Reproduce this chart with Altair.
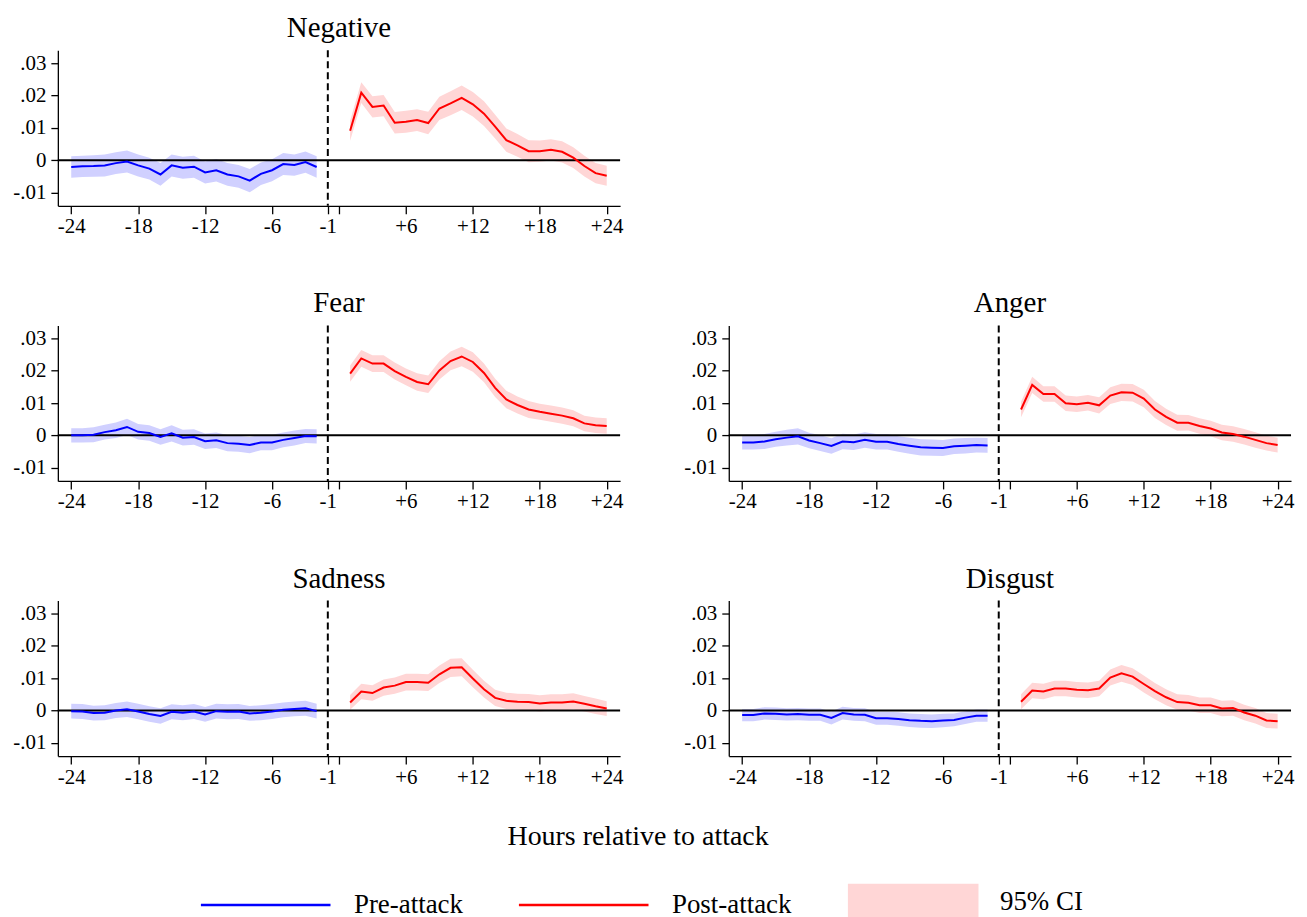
import altair as alt
import pandas as pd

# ---------------- data ----------------
HOURS_PRE = list(range(-24, -1))   # -24 ... -2
HOURS_POST = list(range(1, 25))    # +1 ... +24

neg_pre = [-0.0021, -0.0019, -0.0018, -0.0016, -0.0009, -0.0004, -0.0016, -0.0026, -0.0044, -0.0016,
           -0.0023, -0.0020, -0.0038, -0.0031, -0.0044, -0.0050, -0.0063, -0.0042, -0.0031, -0.0012,
           -0.0015, -0.0006, -0.0021]
neg_pre_ci = [0.0033, 0.0033, 0.0033, 0.0034, 0.0034, 0.0034, 0.0034, 0.0034, 0.0035, 0.0034,
              0.0034, 0.0034, 0.0034, 0.0035, 0.0035, 0.0035, 0.0036, 0.0035, 0.0034, 0.0034,
              0.0033, 0.0033, 0.0033]
neg_post = [0.0091, 0.0209, 0.0165, 0.0169, 0.0116, 0.0119, 0.0124, 0.0115, 0.0160, 0.0176,
            0.0193, 0.0173, 0.0144, 0.0104, 0.0062, 0.0046, 0.0028, 0.0028, 0.0032, 0.0026,
            0.0008, -0.0018, -0.0040, -0.0048]
neg_post_ci = [0.0031, 0.0032, 0.0033, 0.0033, 0.0033, 0.0034, 0.0034, 0.0035, 0.0036, 0.0037,
               0.0038, 0.0038, 0.0038, 0.0037, 0.0036, 0.0035, 0.0034, 0.0033, 0.0033, 0.0033,
               0.0032, 0.0032, 0.0031, 0.0031]

fear_pre = [0.0000, 0.0000, 0.0002, 0.0010, 0.0016, 0.0026, 0.0011, 0.0007, -0.0005, 0.0006,
            -0.0007, -0.0005, -0.0018, -0.0015, -0.0024, -0.0026, -0.0030, -0.0022, -0.0022, -0.0014,
            -0.0008, -0.0002, -0.0003]
fear_pre_ci = [0.0022, 0.0022, 0.0023, 0.0023, 0.0024, 0.0025, 0.0024, 0.0024, 0.0024, 0.0025,
               0.0024, 0.0024, 0.0024, 0.0024, 0.0025, 0.0025, 0.0025, 0.0024, 0.0024, 0.0023,
               0.0023, 0.0022, 0.0022]
fear_post = [0.0191, 0.0238, 0.0222, 0.0222, 0.0199, 0.0181, 0.0165, 0.0158, 0.0201, 0.0230,
             0.0244, 0.0227, 0.0193, 0.0147, 0.0111, 0.0094, 0.0080, 0.0073, 0.0067, 0.0061,
             0.0053, 0.0037, 0.0031, 0.0029]
fear_post_ci = [0.0025, 0.0026, 0.0026, 0.0026, 0.0026, 0.0026, 0.0027, 0.0027, 0.0028, 0.0029,
                0.0030, 0.0030, 0.0029, 0.0028, 0.0027, 0.0026, 0.0026, 0.0025, 0.0025, 0.0025,
                0.0025, 0.0024, 0.0024, 0.0024]

anger_pre = [-0.0022, -0.0022, -0.0019, -0.0012, -0.0007, -0.0003, -0.0016, -0.0024, -0.0033, -0.0019,
             -0.0021, -0.0014, -0.0020, -0.0020, -0.0027, -0.0032, -0.0037, -0.0038, -0.0039, -0.0034,
             -0.0032, -0.0030, -0.0031]
anger_pre_ci = [0.0022, 0.0022, 0.0023, 0.0023, 0.0024, 0.0025, 0.0024, 0.0024, 0.0024, 0.0024,
                0.0024, 0.0024, 0.0024, 0.0024, 0.0024, 0.0025, 0.0025, 0.0025, 0.0025, 0.0024,
                0.0024, 0.0023, 0.0023]
anger_post = [0.0080, 0.0156, 0.0128, 0.0128, 0.0099, 0.0096, 0.0101, 0.0093, 0.0123, 0.0133,
              0.0132, 0.0114, 0.0080, 0.0057, 0.0039, 0.0039, 0.0029, 0.0021, 0.0009, 0.0004,
              -0.0004, -0.0014, -0.0024, -0.0030]
anger_post_ci = [0.0024, 0.0025, 0.0024, 0.0024, 0.0024, 0.0024, 0.0024, 0.0025, 0.0026, 0.0027,
                 0.0027, 0.0027, 0.0026, 0.0025, 0.0025, 0.0024, 0.0024, 0.0024, 0.0024, 0.0024,
                 0.0024, 0.0024, 0.0023, 0.0023]

sad_pre = [-0.0002, -0.0003, -0.0008, -0.0007, 0.0000, 0.0004, -0.0003, -0.0011, -0.0017, -0.0004,
           -0.0007, -0.0003, -0.0012, -0.0002, -0.0004, -0.0003, -0.0009, -0.0007, -0.0003, 0.0002,
           0.0005, 0.0007, -0.0002]
sad_pre_ci = [0.0023, 0.0023, 0.0023, 0.0023, 0.0023, 0.0024, 0.0024, 0.0024, 0.0024, 0.0023,
              0.0023, 0.0023, 0.0023, 0.0023, 0.0023, 0.0023, 0.0023, 0.0023, 0.0023, 0.0023,
              0.0023, 0.0023, 0.0023]
sad_post = [0.0025, 0.0059, 0.0054, 0.0071, 0.0077, 0.0088, 0.0088, 0.0086, 0.0112, 0.0132,
            0.0134, 0.0099, 0.0066, 0.0039, 0.0030, 0.0027, 0.0026, 0.0022, 0.0025, 0.0025,
            0.0028, 0.0021, 0.0013, 0.0006]
sad_post_ci = [0.0023, 0.0024, 0.0024, 0.0025, 0.0025, 0.0026, 0.0026, 0.0026, 0.0027, 0.0028,
               0.0028, 0.0027, 0.0026, 0.0025, 0.0025, 0.0025, 0.0025, 0.0025, 0.0025, 0.0025,
               0.0025, 0.0024, 0.0024, 0.0023]

dis_pre = [-0.0014, -0.0014, -0.0009, -0.0010, -0.0012, -0.0011, -0.0013, -0.0013, -0.0023, -0.0008,
           -0.0012, -0.0013, -0.0024, -0.0024, -0.0026, -0.0030, -0.0032, -0.0033, -0.0031, -0.0029,
           -0.0022, -0.0016, -0.0016]
dis_pre_ci = [0.0019, 0.0019, 0.0019, 0.0019, 0.0019, 0.0019, 0.0019, 0.0019, 0.0020, 0.0020,
              0.0020, 0.0020, 0.0020, 0.0020, 0.0021, 0.0021, 0.0021, 0.0021, 0.0021, 0.0020,
              0.0020, 0.0019, 0.0019]
dis_post = [0.0027, 0.0062, 0.0059, 0.0068, 0.0068, 0.0064, 0.0063, 0.0068, 0.0102, 0.0115,
            0.0105, 0.0082, 0.0060, 0.0041, 0.0026, 0.0024, 0.0016, 0.0016, 0.0006, 0.0008,
            -0.0006, -0.0016, -0.0031, -0.0033]
dis_post_ci = [0.0023, 0.0024, 0.0024, 0.0024, 0.0024, 0.0024, 0.0024, 0.0024, 0.0025, 0.0026,
               0.0026, 0.0026, 0.0025, 0.0025, 0.0024, 0.0024, 0.0024, 0.0024, 0.0024, 0.0024,
               0.0024, 0.0024, 0.0023, 0.0023]

X_TICKS = [-24, -18, -12, -6, -1, 0, 6, 12, 18, 24]
Y_TICKS = [-0.01, 0.0, 0.01, 0.02, 0.03]
ATTACK_LINE = [-1]
ZERO_LINE = [0.0]

LEGEND_ITEMS = ["Pre-attack", "Post-attack", "95% CI"]
AXIS_TITLE = "Hours relative to attack"

# ---------------- styling ----------------
FONT = "Liberation Serif"
BLUE = "#0000ff"
RED = "#ff0000"
BLUE_CI = "#d0d0ff"
RED_CI = "#ffd6d6"
LINE_PATH = "M-1,-0.25L25,-0.25L25,0.25L-1,0.25Z"
BOX_PATH = "M-0.8,-3.7L25.4,-3.7L25.4,3.7L-0.8,3.7Z"

PW, PH = 564, 156
TICK_FS = 21


def make_df(pre, pre_ci, post, post_ci):
    rows = []
    for h, v, c in zip(HOURS_PRE, pre, pre_ci):
        rows.append({"hour": h, "est": v, "lo": v - c, "hi": v + c, "period": "pre"})
    for h, v, c in zip(HOURS_POST, post, post_ci):
        rows.append({"hour": h, "est": v, "lo": v - c, "hi": v + c, "period": "post"})
    return pd.DataFrame(rows)


x_scale = alt.Scale(domain=[-25.2, 25.2], nice=False, zero=False)
y_scale = alt.Scale(domain=[-0.0141, 0.034], nice=False, zero=False)
x_axis = alt.Axis(
    values=X_TICKS, title=None, grid=False, tickSize=8, tickWidth=1.3, domainWidth=1.3,
    labelPadding=2, labelFont=FONT, labelFontSize=TICK_FS, labelColor="black", labelFlush=False,
    labelOverlap=False,
    labelExpr="datum.value == 0 ? '' : (datum.value > 0 ? '+' + datum.value : '' + datum.value)",
)
y_axis = alt.Axis(
    values=Y_TICKS, title=None, grid=False, tickSize=7, tickWidth=1.3, domainWidth=1.3,
    labelPadding=5, labelFont=FONT, labelFontSize=TICK_FS, labelColor="black", labelFlush=False,
    labelOverlap=False,
    labelExpr="datum.value == 0 ? '0' : (datum.value < 0 ? '-' : '') + replace(format(abs(datum.value), '.2f'), '0.', '.')",
)


def X(field):
    return alt.X(field, scale=x_scale, axis=x_axis)


def Y(field):
    return alt.Y(field, scale=y_scale, axis=y_axis)


legend = alt.Legend(
    title=AXIS_TITLE, orient="none", legendX=135, legendY=775, direction="horizontal",
    columns=3, columnPadding=47, symbolSize=100, symbolStrokeWidth=0, symbolOpacity=1,
    labelOffset=135, labelFont=FONT, labelFontSize=27, labelColor="black", labelLimit=0,
    titleFont=FONT, titleFontSize=28, titleFontWeight="normal", titleColor="black",
    titleAnchor="middle", titlePadding=38, titleLimit=0, padding=0,
    labelExpr="datum.label == '95% CI' ? '\u00a0\u00a095% CI' : datum.label",
)


def panel(name, df, with_legend=False):
    base = alt.Chart(df)
    pre = base.transform_filter("datum.period == 'pre'")
    post = base.transform_filter("datum.period == 'post'")
    band_pre = pre.mark_area(color=BLUE_CI, opacity=1).encode(x=X("hour:Q"), y=Y("lo:Q"), y2="hi:Q")
    band_post = post.mark_area(color=RED_CI, opacity=1).encode(x=X("hour:Q"), y=Y("lo:Q"), y2="hi:Q")
    zero = alt.Chart(pd.DataFrame({"v": ZERO_LINE})).mark_rule(color="black", strokeWidth=2).encode(y=Y("v:Q"))
    vline = alt.Chart(pd.DataFrame({"h": ATTACK_LINE})).mark_rule(
        color="black", strokeWidth=2, strokeDash=[7, 4]).encode(x=X("h:Q"))
    line_pre = pre.mark_line(color=BLUE, strokeWidth=2).encode(x=X("hour:Q"), y=Y("est:Q"))
    line_post = post.mark_line(color=RED, strokeWidth=2).encode(x=X("hour:Q"), y=Y("est:Q"))
    layers = [band_pre, band_post, zero, vline, line_pre, line_post]
    if with_legend:
        leg_layer = base.transform_calculate(series="'Pre-attack'").transform_filter("false").mark_point(
            filled=True).encode(
            x=X("hour:Q"), y=Y("est:Q"),
            color=alt.Color("series:N", scale=alt.Scale(domain=LEGEND_ITEMS, range=[BLUE, RED, RED_CI]),
                            legend=legend),
            shape=alt.Shape("series:N", scale=alt.Scale(domain=LEGEND_ITEMS,
                                                          range=[LINE_PATH, LINE_PATH, BOX_PATH]),
                            legend=legend),
        )
        layers.append(leg_layer)
    return alt.layer(*layers).properties(
        width=PW, height=PH,
        title=alt.TitleParams(name, font=FONT, fontSize=29, fontWeight="normal", color="black",
                              anchor="middle", frame="group", offset=6),
    )


neg = panel("Negative", make_df(neg_pre, neg_pre_ci, neg_post, neg_post_ci))
fear = panel("Fear", make_df(fear_pre, fear_pre_ci, fear_post, fear_post_ci))
anger = panel("Anger", make_df(anger_pre, anger_pre_ci, anger_post, anger_post_ci))
sad = panel("Sadness", make_df(sad_pre, sad_pre_ci, sad_post, sad_post_ci))
dis = panel("Disgust", make_df(dis_pre, dis_pre_ci, dis_post, dis_post_ci), with_legend=True)

chart = alt.vconcat(
    neg,
    alt.hconcat(fear, anger, spacing=60),
    alt.hconcat(sad, dis, spacing=60),
    spacing=53,
).properties(
    padding={"left": 4, "right": 5, "top": 5, "bottom": 0},
    background="white",
).configure_view(stroke=None).configure_axis(domainColor="black", tickColor="black")

chart.save("out.html", embed_options={"renderer": "svg", "actions": False})
